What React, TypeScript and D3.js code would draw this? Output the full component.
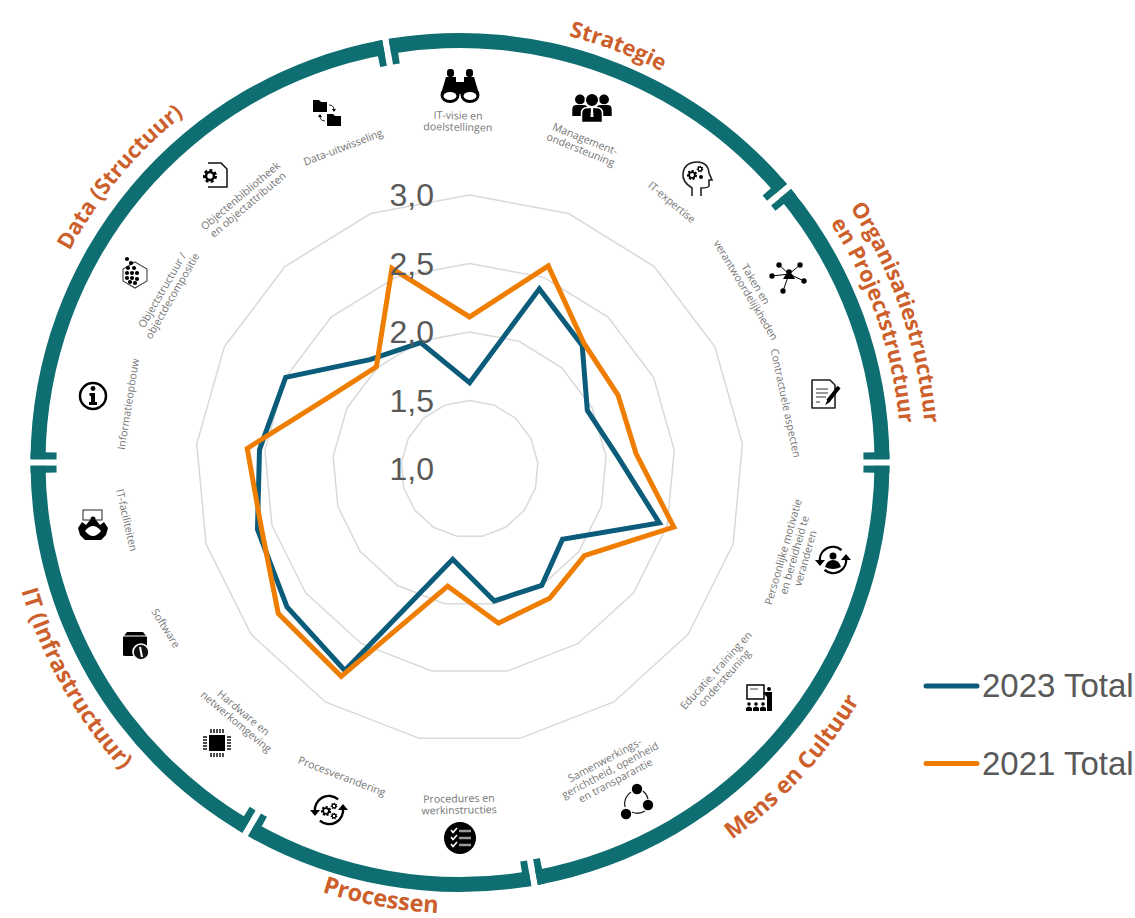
import React from "react";
import * as d3 from "d3";

// ---------- data ----------
const axisNames = [
  "IT-visie en doelstellingen", "Management-ondersteuning", "IT-expertise", "Taken en verantwoordelijkheden",
  "Contractuele aspecten", "Persoonlijke motivatie en bereidheid te veranderen", "Educatie, training en ondersteuning",
  "Samenwerkingsgerichtheid, openheid en transparantie", "Procedures en werkinstructies", "Procesverandering",
  "Hardware en netwerkomgeving", "Software", "IT-faciliteiten", "Informatieopbouw",
  "Objectstructuur / objectdecompositie", "Objectenbibliotheek en objectattributen", "Data-uitwisseling",
];
const values2023 = [1.63, 2.41, 2.22, 1.96, 2.08, 2.44, 1.85, 2.0, 1.98, 1.67, 2.73, 2.67, 2.61, 2.54, 2.5, 2.08, 1.99];
const values2021 = [2.11, 2.59, 2.24, 2.21, 2.22, 2.55, 2.05, 2.11, 2.145, 1.87, 2.78, 2.75, 2.58, 2.63, 2.16, 2.01, 2.57];
const ticks = [1.0, 1.5, 2.0, 2.5, 3.0];
const gridLevels = [1.5, 2.0, 2.5, 3.0];
const seriesNames = ["2023 Total", "2021 Total"];
const sectionBounds = [-10, 50, 90, 170, 210, 270, 350];

// ---------- layout ----------
const W = 1135, H = 918;
const CX = 469.6, CY = 469;
const RC = 460, RCY = 462.5;
const BLUE = "#0b5c7a", ORANGE = "#ee7d00", TEAL = "#0f6e72", TITLE = "#cc5f2b", GREY = "#595959";
const rad = d3.scaleLinear().domain([1, 3]).range([0, 274]);
const n = axisNames.length;
const ang = d3.scalePoint<number>().domain(d3.range(n + 1)).range([0, 2 * Math.PI]);

const radial = d3.lineRadial<number>()
  .angle((_, i) => ang(i) as number)
  .radius((d) => rad(d))
  .curve(d3.curveLinearClosed);

const ROuter = 429.5, RInner = 414.5, RTick = 403.5;
const arcGen = d3.arc<any>();
const deg = (a: number) => (a * Math.PI) / 180;

const labelLayout: { lines: string[]; x: number; y: number; r: number }[] = [
  { lines: ["IT-visie en", "doelstellingen"], x: 458, y: 121, r: 1 },
  { lines: ["Management-", "ondersteuning"], x: 583, y: 144, r: 22 },
  { lines: ["IT-expertise"], x: 672, y: 202, r: 40 },
  { lines: ["Taken en", "verantwoordelijkheden"], x: 751, y: 287, r: 59 },
  { lines: ["Contractuele aspecten"], x: 786, y: 403, r: 78 },
  { lines: ["Persoonlijke motivatie", "en bereidheid te", "veranderen"], x: 794, y: 555, r: -74 },
  { lines: ["Educatie, training en", "ondersteuning"], x: 720, y: 674, r: -48 },
  { lines: ["Samenwerkings-", "gerichtheid, openheid", "en transparantie"], x: 610, y: 770, r: -28 },
  { lines: ["Procedures en", "werkinstructies"], x: 459, y: 804, r: -1 },
  { lines: ["Procesverandering"], x: 342, y: 776, r: 21 },
  { lines: ["Hardware en", "netwerkomgeving"], x: 240, y: 717, r: 40 },
  { lines: ["Software"], x: 166, y: 628, r: 58 },
  { lines: ["IT-faciliteiten"], x: 127, y: 520, r: 77 },
  { lines: ["Informatieopbouw"], x: 128, y: 404, r: -81 },
  { lines: ["Objectstructuur /", "objectdecompositie"], x: 167, y: 293, r: -60 },
  { lines: ["Objectenbibliotheek", "en objectattributen"], x: 244, y: 200, r: -40 },
  { lines: ["Data-uitwisseling"], x: 343, y: 147, r: -21 },
];

const iconPos: [number, number][] = [
  [460, 86], [592, 108], [697, 177], [789, 278], [825, 394], [833, 560], [759, 698], [637, 802], [460, 838],
  [329, 810], [217, 743], [135, 645], [93, 525], [93, 396], [135, 275], [217, 175], [327, 113],
];

const titles: { lines: { t: string; R: number }[]; mid: number; inward: boolean; size: number }[] = [
  { lines: [{ t: "Strategie", R: 440 }], mid: 20.8, inward: false, size: 22 },
  { lines: [{ t: "Organisatiestructuur", R: 466 }, { t: "en Projectstructuur", R: 441 }], mid: 71, inward: false, size: 21.8 },
  { lines: [{ t: "Mens en Cultuur", R: 465 }], mid: 132.5, inward: true, size: 23 },
  { lines: [{ t: "Processen", R: 451 }], mid: 190.3, inward: true, size: 23.5 },
  { lines: [{ t: "IT (Infrastructuur)", R: 457 }], mid: 240.7, inward: true, size: 23 },
  { lines: [{ t: "Data (Structuur)", R: 444 }], mid: 310, inward: false, size: 22 },
];

function arcPath(R: number, mid: number, inward: boolean) {
  const span = 75;
  const p = (a: number) => [RC + R * Math.sin(deg(a)), RCY - R * Math.cos(deg(a))];
  const [a0, a1] = inward ? [mid + span, mid - span] : [mid - span, mid + span];
  const s = p(a0), e = p(a1);
  return `M${s[0]},${s[1]} A${R},${R} 0 0 ${inward ? 0 : 1} ${e[0]},${e[1]}`;
}

// ---------- icons ----------
const Gear = ({ x, y, r, c = "#000" }: any) => (
  <g>
    <circle cx={x} cy={y} r={r} fill="none" stroke={c} strokeWidth={r * 0.55} strokeDasharray={`${r * 0.5} ${r * 0.4}`} />
    <circle cx={x} cy={y} r={r * 0.72} fill="none" stroke={c} strokeWidth={r * 0.45} />
  </g>
);
const Cycle = ({ r }: any) => (
  <g fill="none" stroke="#000" strokeWidth={2.4}>
    <path d={`M${-r},2 A${r},${r} 0 0 1 ${r * 0.65},${-r * 0.76}`} />
    <path d={`M${r},-2 A${r},${r} 0 0 1 ${-r * 0.65},${r * 0.76}`} />
    <path d={`M${-r - 5},0 L${-r + 5},0 L${-r},6 Z`} fill="#000" stroke="none" />
    <path d={`M${r - 5},0 L${r + 5},0 L${r},-6 Z`} fill="#000" stroke="none" />
  </g>
);
const Person = ({ x, y, s = 1 }: any) => (
  <g transform={`translate(${x},${y}) scale(${s})`}>
    <circle cx={0} cy={-6} r={4.5} />
    <path d="M-7,9 V3 Q-7,-1 -3,-1 H3 Q7,-1 7,3 V9 Z" />
  </g>
);
const Folder = ({ x, y }: any) => (
  <path transform={`translate(${x},${y})`} d="M-7,-6 H-1 L1,-4 H7 V6 H-7 Z" />
);

const icons: React.ReactNode[] = [
  <g key="bino">
    <rect x={-13} y={-17} width={7} height={8} rx={3} />
    <rect x={6} y={-17} width={7} height={8} rx={3} />
    <path d="M-14,-9 H-4 V-4 H4 V-9 H14 L19,8 H-19 Z" />
    <ellipse cx={-10} cy={9} rx={9.5} ry={8} />
    <ellipse cx={10} cy={9} rx={9.5} ry={8} />
    <ellipse cx={-10} cy={10} rx={6.5} ry={4} fill="#fff" />
    <ellipse cx={10} cy={10} rx={6.5} ry={4} fill="#fff" />
  </g>,
  <g key="people">
    <Person x={-12} y={-2} s={1.1} />
    <Person x={12} y={-2} s={1.1} />
    <g stroke="#fff" strokeWidth={1}>
      <Person x={0} y={1} s={1.5} />
    </g>
    <path d="M-1,0 H1 L1.5,9 H-1.5 Z" fill="#fff" />
  </g>,
  <g key="head">
    <path d="M-5,19 V11 Q-15,5 -14,-4 Q-12,-15 0,-15 Q11,-15 12,-4 L15,3 H12 V9 Q11,11 4,11 V19" fill="none" stroke="#222" strokeWidth={1.6} />
    <Gear x={-5} y={-2} r={4} />
    <Gear x={3} y={-8} r={2.6} />
    <circle cx={4} cy={0} r={2} />
  </g>,
  <g key="net">
    {[[-10, -13], [11, -13], [-17, -2], [15, 3], [-6, 13]].map(([x, y], i) => (
      <g key={i}>
        <line x1={0} y1={-4} x2={x} y2={y} stroke="#000" strokeWidth={1} />
        <circle cx={x} cy={y} r={2.7} />
      </g>
    ))}
    <circle cx={0} cy={-6} r={2.8} />
    <path d="M-6,1 L-3,-4 H3 L6,1 Z" />
  </g>,
  <g key="doc">
    <path d="M-13,-14 H5 L10,-9 V14 H-13 Z" fill="#fff" stroke="#222" strokeWidth={1.6} strokeLinejoin="round" />
    <path d="M-9,-5 H3 M-9,-1 H3 M-9,3 H1 M-9,8 H-5" stroke="#333" strokeWidth={1} />
    <path d="M3,7 L14,-7" stroke="#000" strokeWidth={4} />
    <path d="M0,11 L3,5 L5,8 Z" />
  </g>,
  <g key="cyc">
    <Cycle r={13} />
    <circle cx={0} cy={-4} r={3.5} />
    <path d="M-8,7 Q-6,0 0,0 Q6,0 8,7 Q0,11 -8,7 Z" />
  </g>,
  <g key="train">
    <rect x={-12} y={-13} width={17} height={14} fill="#fff" stroke="#111" strokeWidth={1.6} />
    <line x1={-9} y1={-9} x2={-1} y2={-9} stroke="#666" strokeWidth={1.2} />
    <circle cx={10} cy={-9} r={2} />
    <path d="M7,-6 H13 V13 H8 V-1 L4,-5 Z" />
    {[-10, -3, 4].map((x) => (
      <g key={x}>
        <circle cx={x} cy={6} r={1.8} />
        <path d={`M${x - 3},13 V10 Q${x},7 ${x + 3},10 V13 Z`} />
      </g>
    ))}
  </g>,
  <g key="tri">
    <circle cx={0} cy={-13} r={5.2} />
    <circle cx={11} cy={3} r={5.2} />
    <circle cx={-11} cy={12} r={5.2} />
    <path d="M-5,10 A14,14 0 0 0 8,9 M-12,5 A14,14 0 0 1 -6,-10 M6,-11 A14,14 0 0 1 11,-3" fill="none" stroke="#222" strokeWidth={1.3} />
  </g>,
  <g key="check">
    <circle r={16} />
    <path d="M-9,-8 L-7,-5.5 L-3,-10 M-9,-1 L-7,1.5 L-3,-3 M-9,6 L-7,8.5 L-3,4" fill="none" stroke="#fff" strokeWidth={1.6} />
    <path d="M-1,-7 H11 M-1,0 H11 M-1,7 H11" stroke="#999" strokeWidth={2.4} />
  </g>,
  <g key="gcyc">
    <Cycle r={14} />
    <Gear x={-3} y={1} r={4} />
    <Gear x={5} y={-4} r={2.6} />
    <Gear x={5} y={6} r={2.6} />
  </g>,
  <g key="chip">
    <rect x={-8} y={-8} width={16} height={16} />
    {d3.range(-6, 7, 3).map((p) => (
      <g key={p}>
        <rect x={p - 0.7} y={-14} width={1.4} height={4} />
        <rect x={p - 0.7} y={10} width={1.4} height={4} />
        <rect x={-14} y={p - 0.7} width={4} height={1.4} />
        <rect x={10} y={p - 0.7} width={4} height={1.4} />
      </g>
    ))}
  </g>,
  <g key="box">
    <path d="M-12,-8 L-8,-13 H8 L12,-8 V10 Q12,11 11,11 H-10 Q-12,11 -12,10 Z" />
    <path d="M-12,-9 H12" stroke="#fff" strokeWidth={1} />
    <circle cx={6} cy={7} r={8} fill="#111" stroke="#fff" strokeWidth={1.6} />
    <path d="M5,2 L7,12" stroke="#fff" strokeWidth={2} />
  </g>,
  <g key="room">
    <rect x={-10} y={-15} width={19} height={10} fill="#fff" stroke="#222" strokeWidth={1} />
    <path d="M-15,3 L-11,-3 L-7,0 L-3,-5 H3 L7,0 L11,-3 L15,3 L13,10 L8,15 H-8 L-13,10 Z" />
    <path d="M-8,6 Q0,-4 8,6 Q4,11 0,11 Q-4,11 -8,6 Z" fill="#fff" />
    <circle cx={0} cy={-6} r={2.5} />
  </g>,
  <g key="info">
    <circle r={13} fill="none" stroke="#000" strokeWidth={2.5} />
    <circle cx={0} cy={-7.5} r={2.4} />
    <path d="M-3.5,-3 H2 V6 H4 V9 H-4 V6 H-2 V0 H-3.5 Z" />
  </g>,
  <g key="hex">
    <path d="M0,-13 L12,-6 V6 L0,13 L-12,6 V-6 Z" fill="none" stroke="#444" strokeWidth={1.1} />
    {[[-8, -16], [-4, -12], [-1, -7], [-7, -7], [-3, -2], [-8, -2], [2, -2], [-3, 3], [-8, 3], [2, 4], [0, 8], [-5, 7]].map(([x, y], i) => (
      <circle key={i} cx={x} cy={y} r={2.1} />
    ))}
  </g>,
  <g key="docg">
    <path d="M-9,-12 H4 L10,-6 V12 H-9" fill="none" stroke="#111" strokeWidth={1.5} />
    <circle cx={-7} cy={1} r={8.5} fill="#fff" stroke="none" />
    <Gear x={-7} y={1} r={5.5} />
  </g>,
  <g key="fold">
    <Folder x={-7} y={-7} />
    <Folder x={7} y={7} />
    <path d="M2,-8 Q7,-8 7,-3 M-2,8 Q-7,8 -7,3" fill="none" stroke="#222" strokeWidth={1} />
    <path d="M5,-4 H9 L7,-1 Z M-9,4 H-5 L-7,1 Z" />
  </g>,
];

export default function App() {
  const sections = d3.pairs(sectionBounds);
  const gapA = 3.3 / ROuter;
  const tickA = 7.3 / ROuter;
  return (
    <svg width={W} height={H} viewBox={`0 0 ${W} ${H}`} style={{ position: "absolute", left: 0, top: 0, display: "block" }}>
      <rect width={W} height={H} fill="#fff" />

      {/* outer ring */}
      <g transform={`translate(${RC},${RCY})`} fill={TEAL}>
        {sections.map(([a, b], i) => {
          const s = deg(a) + gapA, e = deg(b) - gapA;
          return (
            <g key={i}>
              <path d={arcGen({ innerRadius: RInner, outerRadius: ROuter, startAngle: s, endAngle: e }) as string} />
              <path d={arcGen({ innerRadius: RTick, outerRadius: ROuter, startAngle: s, endAngle: s + tickA }) as string} />
              <path d={arcGen({ innerRadius: RTick, outerRadius: ROuter, startAngle: e - tickA, endAngle: e }) as string} />
            </g>
          );
        })}
      </g>

      {/* section titles */}
      <defs>
        {titles.flatMap((t, i) =>
          t.lines.map((l, j) => <path key={`${i}-${j}`} id={`tp${i}-${j}`} d={arcPath(l.R, t.mid, t.inward)} />)
        )}
      </defs>
      <g fontFamily="'Open Sans'" fontWeight={700} fill={TITLE} textAnchor="middle">
        {titles.flatMap((t, i) =>
          t.lines.map((l, j) => (
            <text key={`${i}-${j}`} fontSize={t.size}>
              <textPath href={`#tp${i}-${j}`} startOffset="50%">{l.t}</textPath>
            </text>
          ))
        )}
      </g>

      {/* axis labels */}
      <g fontFamily="'Open Sans'" fontSize={10.6} fill="#767676" textAnchor="middle">
        {labelLayout.map((l, i) => (
          <text key={i} transform={`translate(${l.x},${l.y}) rotate(${l.r})`}>
            {l.lines.map((t, j) => (
              <tspan key={j} x={0} y={(j - (l.lines.length - 1) / 2) * 11.5 + 4}>{t}</tspan>
            ))}
          </text>
        ))}
      </g>

      {/* icons */}
      {iconPos.map(([x, y], i) => (
        <g key={i} transform={`translate(${x},${y})`} fill="#000">{icons[i]}</g>
      ))}

      {/* radar */}
      <g transform={`translate(${CX},${CY})`}>
        {gridLevels.map((v) => (
          <path key={v} d={radial(d3.range(n).map(() => v)) as string} fill="none" stroke="#d9d9d9" strokeWidth={1.5} />
        ))}
        <path d={radial(values2023) as string} fill="none" stroke={BLUE} strokeWidth={5} />
        <path d={radial(values2021) as string} fill="none" stroke={ORANGE} strokeWidth={5} />
      </g>

      {/* radial tick labels */}
      <g fontFamily="'Liberation Sans'" fontSize={32} fill={GREY} textAnchor="end">
        {ticks.map((v) => (
          <text key={v} x={434} y={CY - rad(v) + 11}>{v.toFixed(1).replace(".", ",")}</text>
        ))}
      </g>

      {/* legend */}
      <g fontFamily="'Liberation Sans'" fontSize={33} fill={GREY}>
        {seriesNames.map((s, i) => (
          <g key={s} transform={`translate(0,${686 + i * 77.5})`}>
            <line x1={926} x2={977} y1={0} y2={0} stroke={i === 0 ? BLUE : ORANGE} strokeWidth={5} strokeLinecap="round" />
            <text x={982} y={11}>{s}</text>
          </g>
        ))}
      </g>
    </svg>
  );
}
